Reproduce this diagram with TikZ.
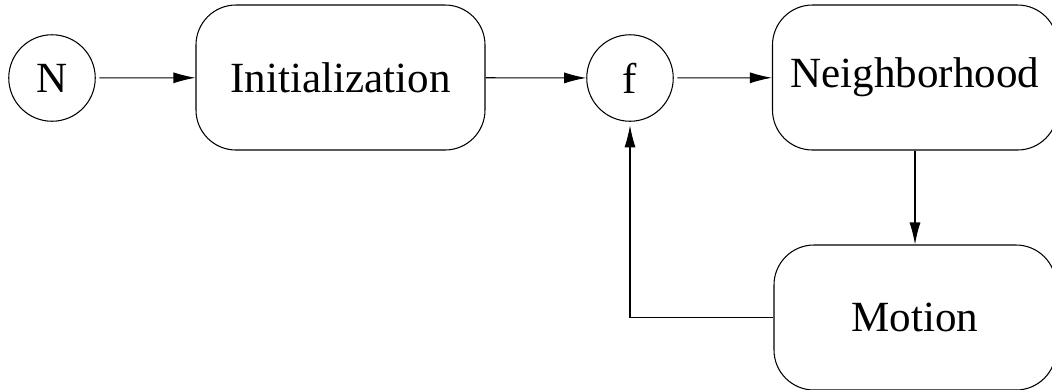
\documentclass[tikz,border=0pt]{standalone}
\usepackage{fontspec}
\setmainfont{Liberation Serif}
\usetikzlibrary{arrows.meta}

\begin{document}
\begin{tikzpicture}[scale=1,
  every node/.style={font=\fontsize{24.5}{29}\selectfont},
  state/.style={circle,draw,line width=0.6pt,minimum size=1.73cm,inner sep=0pt},
  block/.style={rectangle,draw,line width=0.6pt,rounded corners=0.8cm,minimum height=2.9cm,inner sep=0pt},
  flow/.style={-{Latex[length=0.44cm,width=0.22cm]},line width=0.6pt}]

\useasboundingbox (0,0) rectangle (21.04,-7.78);

\coordinate (PN) at (1.04,-1.56);
\coordinate (PI) at (6.81,-1.55);
\coordinate (PF) at (12.6,-1.56);
\coordinate (PB) at (18.3,-1.55);
\coordinate (PM) at (18.3,-6.35);

\node[state] (n) at (PN) {N};
\node[block,minimum width=5.78cm] (init) at (PI) {Initialization};
\node[state] (f) at (PF) {f};
\node[block,minimum width=5.7cm] (neigh) at (PB) {Neighborhood};
\node[block,minimum width=5.64cm] (motion) at (PM) {Motion};

\draw[flow,shorten <=2pt] (n) -- (init);
\draw[flow] (init) -- (f);
\draw[flow,shorten <=2pt] (f) -- (neigh);
\draw[flow] (neigh) -- (motion);

\draw[flow,shorten >=2pt] (motion.west) -| (f.south);

\end{tikzpicture}
\end{document}
